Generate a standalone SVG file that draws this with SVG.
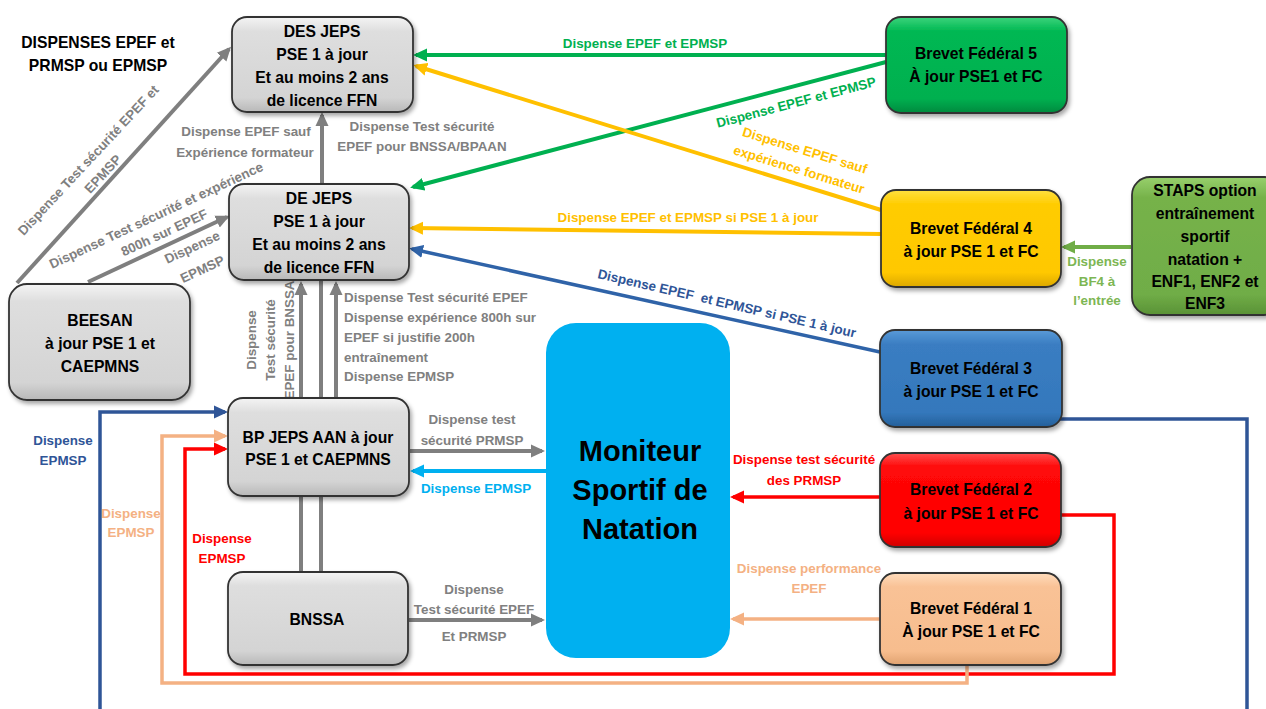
<svg xmlns="http://www.w3.org/2000/svg" width="1266" height="709" viewBox="0 0 1266 709">
<defs>
<style>
.nt{font-family:"Liberation Sans",Arial,sans-serif;font-weight:bold;font-size:15.7px;fill:#000;text-anchor:middle}
.lb{font-family:"Liberation Sans",Arial,sans-serif;font-weight:bold;font-size:13.4px;text-anchor:middle}
.la{text-anchor:start}
.box{stroke:#333;stroke-width:1.8;filter:url(#sh)}
.tg{fill:#808080}.tgr{fill:#00b050}.ty{fill:#ffc000}.tb{fill:#2f5597}.tr{fill:#ff0000}.tp{fill:#f4b183}.tc{fill:#00b0f0}.tl{fill:#7db653}
.cg{stroke:#7f7f7f;stroke-width:4}.cgr{stroke:#00b050;stroke-width:4}.cy{stroke:#ffc000;stroke-width:4}
.cb{stroke:#2f63a8;stroke-width:3.5}.cbd{stroke:#2f5597;stroke-width:3.5}.cr{stroke:#ff0000;stroke-width:3.5}
.cp{stroke:#f4b183;stroke-width:3.5}.cc{stroke:#00b0f0;stroke-width:4}.cl{stroke:#70ad47;stroke-width:4}
</style>
<filter id="sh" x="-10%" y="-10%" width="125%" height="130%">
<feDropShadow dx="2" dy="3" stdDeviation="2" flood-color="#000" flood-opacity="0.35"/>
</filter>
<linearGradient id="gGray" x1="0" y1="0" x2="0" y2="1"><stop offset="0" stop-color="#f4f4f4"/><stop offset="0.15" stop-color="#dedede"/><stop offset="0.85" stop-color="#d4d4d4"/><stop offset="1" stop-color="#b8b8b8"/></linearGradient>
<linearGradient id="gGreen" x1="0" y1="0" x2="0" y2="1"><stop offset="0" stop-color="#3cd47c"/><stop offset="0.15" stop-color="#00b852"/><stop offset="0.85" stop-color="#00b050"/><stop offset="1" stop-color="#008a3e"/></linearGradient>
<linearGradient id="gYellow" x1="0" y1="0" x2="0" y2="1"><stop offset="0" stop-color="#ffe040"/><stop offset="0.15" stop-color="#ffcc00"/><stop offset="0.85" stop-color="#ffc800"/><stop offset="1" stop-color="#dca800"/></linearGradient>
<linearGradient id="gLime" x1="0" y1="0" x2="0" y2="1"><stop offset="0" stop-color="#98d06c"/><stop offset="0.15" stop-color="#76b24a"/><stop offset="0.85" stop-color="#70ad47"/><stop offset="1" stop-color="#5a9236"/></linearGradient>
<linearGradient id="gBlue" x1="0" y1="0" x2="0" y2="1"><stop offset="0" stop-color="#5a9ad8"/><stop offset="0.15" stop-color="#3a7dc2"/><stop offset="0.85" stop-color="#3478bc"/><stop offset="1" stop-color="#25609a"/></linearGradient>
<linearGradient id="gRed" x1="0" y1="0" x2="0" y2="1"><stop offset="0" stop-color="#ff5050"/><stop offset="0.15" stop-color="#ff0808"/><stop offset="0.85" stop-color="#ff0000"/><stop offset="1" stop-color="#d00000"/></linearGradient>
<linearGradient id="gPeach" x1="0" y1="0" x2="0" y2="1"><stop offset="0" stop-color="#ffdcbc"/><stop offset="0.15" stop-color="#f9c296"/><stop offset="0.85" stop-color="#f7bd8e"/><stop offset="1" stop-color="#e0a270"/></linearGradient>
<marker id="mg" markerUnits="userSpaceOnUse" markerWidth="14" markerHeight="14" viewBox="0 0 14 14" refX="11" refY="7" orient="auto"><path d="M0,0.5 L14,7 L0,13.5 z" fill="#7f7f7f"/></marker>
<marker id="mgr" markerUnits="userSpaceOnUse" markerWidth="14" markerHeight="14" viewBox="0 0 14 14" refX="11" refY="7" orient="auto"><path d="M0,0.5 L14,7 L0,13.5 z" fill="#00b050"/></marker>
<marker id="my" markerUnits="userSpaceOnUse" markerWidth="14" markerHeight="14" viewBox="0 0 14 14" refX="11" refY="7" orient="auto"><path d="M0,0.5 L14,7 L0,13.5 z" fill="#ffc000"/></marker>
<marker id="mb" markerUnits="userSpaceOnUse" markerWidth="14" markerHeight="14" viewBox="0 0 14 14" refX="11" refY="7" orient="auto"><path d="M0,0.5 L14,7 L0,13.5 z" fill="#2f63a8"/></marker>
<marker id="mbd" markerUnits="userSpaceOnUse" markerWidth="14" markerHeight="14" viewBox="0 0 14 14" refX="11" refY="7" orient="auto"><path d="M0,0.5 L14,7 L0,13.5 z" fill="#2f5597"/></marker>
<marker id="mr" markerUnits="userSpaceOnUse" markerWidth="14" markerHeight="14" viewBox="0 0 14 14" refX="11" refY="7" orient="auto"><path d="M0,0.5 L14,7 L0,13.5 z" fill="#ff0000"/></marker>
<marker id="mp" markerUnits="userSpaceOnUse" markerWidth="14" markerHeight="14" viewBox="0 0 14 14" refX="11" refY="7" orient="auto"><path d="M0,0.5 L14,7 L0,13.5 z" fill="#f4b183"/></marker>
<marker id="mc" markerUnits="userSpaceOnUse" markerWidth="14" markerHeight="14" viewBox="0 0 14 14" refX="11" refY="7" orient="auto"><path d="M0,0.5 L14,7 L0,13.5 z" fill="#00b0f0"/></marker>
<marker id="ml" markerUnits="userSpaceOnUse" markerWidth="14" markerHeight="14" viewBox="0 0 14 14" refX="11" refY="7" orient="auto"><path d="M0,0.5 L14,7 L0,13.5 z" fill="#70ad47"/></marker>
</defs>
<rect width="1266" height="709" fill="#fff"/>

<text class="nt" x="98" y="48">DISPENSES EPEF et</text>
<text class="nt" x="98" y="70.5">PRMSP ou EPMSP</text>

<g id="connectors" fill="none">
<line class="cg" x1="17" y1="283" x2="229" y2="49" marker-end="url(#mg)"/>
<line class="cg" x1="88" y1="282" x2="227" y2="217" marker-end="url(#mg)"/>
<line class="cg" x1="322" y1="184" x2="322" y2="115" marker-end="url(#mg)"/>
<line class="cg" x1="301" y1="572" x2="301" y2="284" marker-end="url(#mg)"/>
<line class="cg" x1="321" y1="572" x2="321" y2="281"/>
<line class="cg" x1="336" y1="398" x2="336" y2="284" marker-end="url(#mg)"/>
<line class="cg" x1="410" y1="451" x2="542" y2="451" marker-end="url(#mg)"/>
<line class="cg" x1="409" y1="620" x2="542" y2="620" marker-end="url(#mg)"/>
<line class="cc" x1="546" y1="471" x2="413" y2="471" marker-end="url(#mc)"/>
<line class="cgr" x1="886" y1="55" x2="416" y2="55" marker-end="url(#mgr)"/>
<line class="cgr" x1="886" y1="62" x2="413" y2="187" marker-end="url(#mgr)"/>
<line class="cy" x1="881" y1="210" x2="416" y2="66" marker-end="url(#my)"/>
<line class="cy" x1="881" y1="234" x2="412" y2="228" marker-end="url(#my)"/>
<line class="cb" x1="880" y1="352" x2="412" y2="249" marker-end="url(#mb)"/>
<path class="cbd" d="M1060,419 H1247 V720 H100 V412 H225" marker-end="url(#mbd)"/>
<path class="cr" d="M1061,515 H1114 V674 H185 V449 H225" marker-end="url(#mr)"/>
<line class="cr" x1="880" y1="497" x2="733" y2="497" marker-end="url(#mr)"/>
<path class="cp" d="M967,665 V683 H162 V436 H225" marker-end="url(#mp)"/>
<line class="cp" x1="880" y1="619" x2="733" y2="619" marker-end="url(#mp)"/>
<line class="cl" x1="1131" y1="247" x2="1064" y2="247" marker-end="url(#ml)"/>

<g class="lb tg">
<text x="246" y="136">Dispense EPEF sauf</text>
<text x="245" y="157">Expérience formateur</text>
<text x="422" y="131">Dispense Test sécurité</text>
<text x="422" y="151">EPEF pour BNSSA/BPAAN</text>
<g transform="translate(88,160) rotate(-47)"><text x="0" y="5">Dispense Test sécurité EPEF et</text><text x="0" y="25">EPMSP</text></g>
<g transform="translate(156,215) rotate(-25)"><text x="0" y="5">Dispense Test sécurité et expérience</text><text x="0" y="24">800h sur EPEF</text></g>
<g transform="translate(192,247) rotate(-25)"><text x="0" y="5">Dispense</text><text x="0" y="29">EPMSP</text></g>
<g transform="translate(251,340) rotate(-90)"><text x="0" y="4.7">Dispense</text><text x="0" y="23.7">Test sécurité</text><text x="0" y="42.7">EPEF pour BNSSA</text></g>
<text class="la" x="344" y="301.5">Dispense Test sécurité EPEF</text>
<text class="la" x="344" y="321.5">Dispense expérience 800h sur</text>
<text class="la" x="344" y="341.5">EPEF si justifie 200h</text>
<text class="la" x="344" y="361.5">entraînement</text>
<text class="la" x="344" y="380.5">Dispense EPMSP</text>
<text x="472" y="424">Dispense test</text>
<text x="472" y="445">sécurité PRMSP</text>
<text x="474" y="594">Dispense</text>
<text x="474" y="614">Test sécurité EPEF</text>
<text x="474" y="641">Et PRMSP</text>
</g>
<text class="lb tc" x="476" y="493">Dispense EPMSP</text>
<g class="lb tgr">
<text x="645" y="48">Dispense EPEF et EPMSP</text>
<g transform="translate(796,102) rotate(-14.8)"><text x="0" y="5">Dispense EPEF et EPMSP</text></g>
</g>
<g class="lb ty">
<g transform="translate(805,150) rotate(17)"><text x="0" y="5">Dispense EPEF sauf</text><text x="0" y="25">expérience formateur</text></g>
<text x="688" y="222">Dispense EPEF et EPMSP si PSE 1 à jour</text>
</g>
<g class="lb tb">
<g transform="translate(727,303) rotate(13)"><text x="0" y="5">Dispense EPEF&#160; et EPMSP si PSE 1 à jour</text></g>
<text x="63" y="445">Dispense</text>
<text x="63" y="465">EPMSP</text>
</g>
<g class="lb tl">
<text x="1097" y="266">Dispense</text>
<text x="1097" y="286">BF4 à</text>
<text x="1097" y="305">l’entrée</text>
</g>
<g class="lb tr">
<text x="804" y="464">Dispense test sécurité</text>
<text x="804" y="485">des PRMSP</text>
<text x="222" y="543">Dispense</text>
<text x="222" y="563">EPMSP</text>
</g>
<g class="lb tp">
<text x="809" y="573">Dispense performance</text>
<text x="809" y="593">EPEF</text>
<text x="131" y="518">Dispense</text>
<text x="131" y="537">EPMSP</text>
</g>
</g>

<g id="n-desjeps">
<rect class="box" x="232" y="17" width="181" height="95" rx="15" fill="url(#gGray)"/>
<text class="nt" x="322" y="36.5">DES JEPS</text>
<text class="nt" x="322" y="59.5">PSE 1 à jour</text>
<text class="nt" x="322" y="83">Et au moins 2 ans</text>
<text class="nt" x="322" y="105.5">de licence FFN</text>
</g>
<g id="n-dejeps">
<rect class="box" x="229" y="184" width="180" height="96" rx="15" fill="url(#gGray)"/>
<text class="nt" x="319" y="203.5">DE JEPS</text>
<text class="nt" x="319" y="226.5">PSE 1 à jour</text>
<text class="nt" x="319" y="250">Et au moins 2 ans</text>
<text class="nt" x="319" y="272.5">de licence FFN</text>
</g>
<g id="n-beesan">
<rect class="box" x="9" y="284" width="181" height="116" rx="18" fill="url(#gGray)"/>
<text class="nt" x="100" y="325.5">BEESAN</text>
<text class="nt" x="100" y="348.5">à jour PSE 1 et</text>
<text class="nt" x="100" y="371.5">CAEPMNS</text>
</g>
<g id="n-bpjeps">
<rect class="box" x="228" y="398" width="181" height="98" rx="15" fill="url(#gGray)"/>
<text class="nt" x="318" y="442.5">BP JEPS AAN à jour</text>
<text class="nt" x="318" y="465">PSE 1 et CAEPMNS</text>
</g>
<g id="n-bnssa">
<rect class="box" x="228" y="572" width="180" height="93" rx="15" fill="url(#gGray)"/>
<text class="nt" x="317" y="624.5">BNSSA</text>
</g>
<g id="n-moniteur">
<rect x="546" y="323" width="184" height="335" rx="30" fill="#00b0f0"/>
<text class="nt" x="640" y="461" style="font-size:29px">Moniteur</text>
<text class="nt" x="640" y="500" style="font-size:29px">Sportif de</text>
<text class="nt" x="640" y="539" style="font-size:29px">Natation</text>
</g>
<g id="n-bf5">
<rect class="box" x="886" y="17" width="181" height="96" rx="15" fill="url(#gGreen)"/>
<text class="nt" x="976" y="58.5">Brevet Fédéral 5</text>
<text class="nt" x="976" y="81.5">À jour PSE1 et FC</text>
</g>
<g id="n-bf4">
<rect class="box" x="881" y="190" width="180" height="97" rx="15" fill="url(#gYellow)"/>
<text class="nt" x="971" y="233.5">Brevet Fédéral 4</text>
<text class="nt" x="971" y="256.5">à jour PSE 1 et FC</text>
</g>
<g id="n-staps">
<rect class="box" x="1132" y="177" width="150" height="138" rx="18" fill="url(#gLime)"/>
<text class="nt" x="1205" y="195.5">STAPS option</text>
<text class="nt" x="1205" y="218.5">entraînement</text>
<text class="nt" x="1205" y="241.5">sportif</text>
<text class="nt" x="1205" y="264.5">natation +</text>
<text class="nt" x="1205" y="286.5">ENF1, ENF2 et</text>
<text class="nt" x="1205" y="308.5">ENF3</text>
</g>
<g id="n-bf3">
<rect class="box" x="880" y="330" width="182" height="97" rx="15" fill="url(#gBlue)"/>
<text class="nt" x="971" y="373.5">Brevet Fédéral 3</text>
<text class="nt" x="971" y="396.5">à jour PSE 1 et FC</text>
</g>
<g id="n-bf2">
<rect class="box" x="880" y="453" width="181" height="94" rx="15" fill="url(#gRed)"/>
<text class="nt" x="971" y="494.5">Brevet Fédéral 2</text>
<text class="nt" x="971" y="518.5">à jour PSE 1 et FC</text>
</g>
<g id="n-bf1">
<rect class="box" x="880" y="573" width="181" height="92" rx="15" fill="url(#gPeach)"/>
<text class="nt" x="971" y="613.5">Brevet Fédéral 1</text>
<text class="nt" x="971" y="636.5">À jour PSE 1 et FC</text>
</g>
</svg>
